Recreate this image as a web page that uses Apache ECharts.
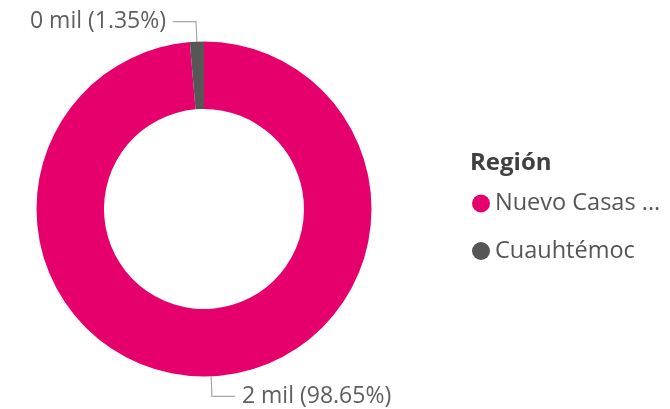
<!DOCTYPE html>
<html>
<head>
<meta charset="utf-8">
<script src="https://cdn.jsdelivr.net/npm/echarts@6/dist/echarts.min.js"></script>
<style>
html,body{margin:0;padding:0;background:#fff;}
#c{width:670px;height:409px;}
</style>
</head>
<body>
<div id="c"></div>
<script>
const legendTitle = 'Región';
const categories = ['Nuevo Casas Grandes', 'Cuauhtémoc'];
const values = [2192, 30];
const colors = ['#E5006B', '#565656'];

const FONT = '"Segoe UI", "Open Sans", sans-serif';
const chart = echarts.init(document.getElementById('c'));
chart.setOption({
  animation: false,
  title: {
    text: legendTitle,
    left: 470,
    top: 151,
    padding: 0,
    textStyle: { fontFamily: FONT, fontSize: 24, fontWeight: 'bold', color: '#404040' }
  },
  legend: {
    orient: 'vertical',
    left: 472,
    top: 191.5,
    padding: 0,
    icon: 'circle',
    itemWidth: 18,
    itemHeight: 18,
    itemGap: 23.5,
    data: categories,
    formatter: n => n.length > 15 ? n.slice(0, 12) + '...' : n,
    textStyle: { fontFamily: FONT, fontSize: 23.5, color: '#555555' }
  },
  series: [{
    type: 'pie',
    center: [204, 209],
    radius: [100, 167.5],
    startAngle: 90,
    clockwise: true,
    avoidLabelOverlap: false,
    emphasis: { disabled: true },
    data: categories.map((n, i) => ({ name: n, value: values[i], itemStyle: { color: colors[i] } })),
    label: {
      show: true,
      position: 'outside',
      fontFamily: FONT,
      fontSize: 23,
      color: '#605E5C',
      distanceToLabelLine: 7,
      formatter: p => Math.round(p.value / 1000) + ' mil (' + p.percent.toFixed(2) + '%)'
    },
    labelLine: {
      show: true,
      length: 20,
      length2: 23,
      lineStyle: { color: '#A8A8A8', width: 1.2 }
    }
  }]
});
</script>
</body>
</html>
